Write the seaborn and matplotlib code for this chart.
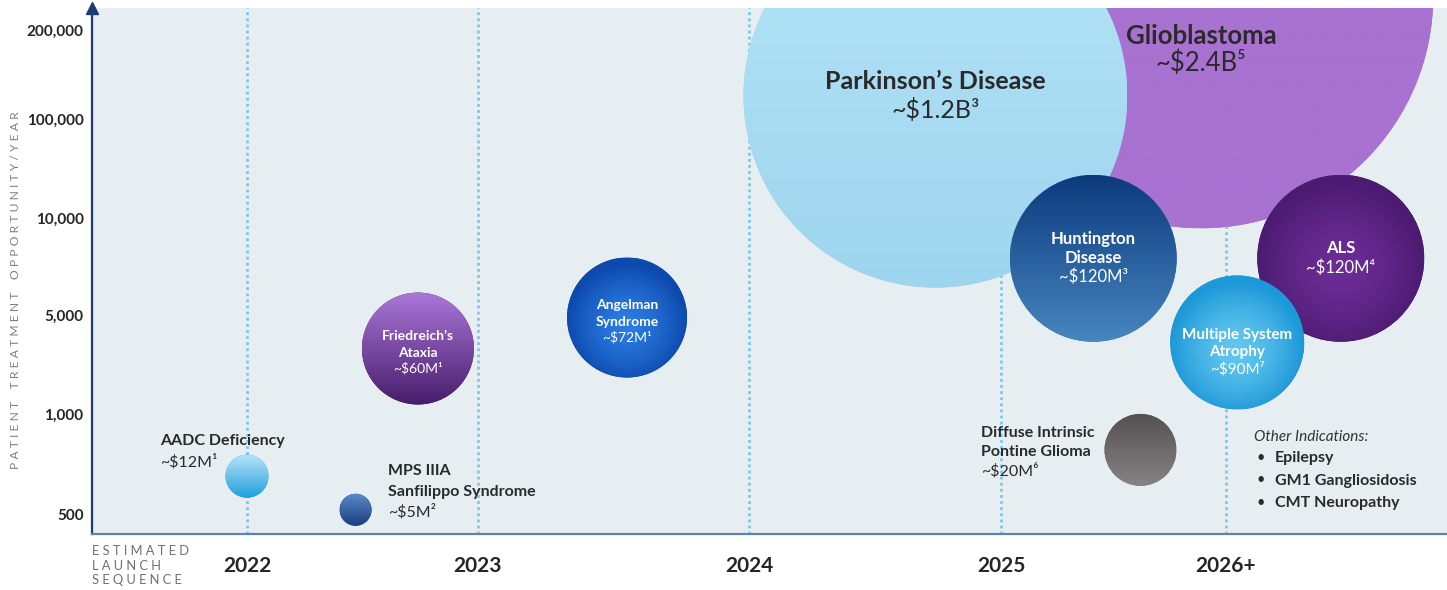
import numpy as np
import pandas as pd
import matplotlib
matplotlib.use('Agg')
import matplotlib.pyplot as plt
import seaborn as sns
from matplotlib.patches import Circle
from matplotlib.transforms import ScaledTranslation
from matplotlib.colors import to_rgb

# data
indications = ['AADC Deficiency', 'MPS IIIA\nSanfilippo Syndrome', 'Friedreich’s\nAtaxia',
               'Angelman\nSyndrome', 'Parkinson’s Disease', 'Glioblastoma',
               'Huntington\nDisease', 'ALS', 'Multiple System\nAtrophy',
               'Diffuse Intrinsic\nPontine Glioma']
market_labels = ['~$12M¹', '~$5M²', '~$60M¹', '~$72M¹', '~$1.2B³', '~$2.4B⁵',
                 '~$120M³', '~$120M⁴', '~$90M⁷', '~$20M⁶']
market_musd = [12, 5, 60, 72, 1200, 2400, 120, 120, 90, 20]
launch = [2022.0, 2022.47, 2022.74, 2023.55, 2024.74, 2025.89, 2025.41, 2026.51, 2026.05, 2025.62]
patients = [650, 515, 2900, 4800, 120000, 260000, 7500, 7500, 3200, 780]

x_tick_years = [2022, 2023, 2024, 2025, 2026]
x_tick_labels = ['2022', '2023', '2024', '2025', '2026+']
y_ticks = [500, 1000, 5000, 10000, 100000, 200000]
y_tick_labels = ['500', '1,000', '5,000', '10,000', '100,000', '200,000']
other_indications = ['Epilepsy', 'GM1 Gangliosidosis', 'CMT Neuropathy']

df = pd.DataFrame({'indication': indications, 'market': market_musd,
                   'launch': launch, 'patients': patients})

W, H, DPI = 1447, 590, 100

# the slide's axes are not linear: tick positions in pixels
X_ANCHOR_PX = [247, 478, 749, 1001, 1226]
Y_ANCHOR_PX = [514, 414, 315, 218, 119, 30]


def extrap_interp(v, xp, fp):
    v = np.asarray(v, dtype=float)
    xp = np.asarray(xp, dtype=float)
    fp = np.asarray(fp, dtype=float)
    out = np.interp(v, xp, fp)
    lo_slope = (fp[1] - fp[0]) / (xp[1] - xp[0])
    hi_slope = (fp[-1] - fp[-2]) / (xp[-1] - xp[-2])
    out = np.where(v < xp[0], fp[0] + (v - xp[0]) * lo_slope, out)
    out = np.where(v > xp[-1], fp[-1] + (v - xp[-1]) * hi_slope, out)
    return out


log_ticks = np.log10(y_ticks)
neg_y_px = -np.array(Y_ANCHOR_PX, dtype=float)


def fwd_x(v):
    return extrap_interp(v, x_tick_years, X_ANCHOR_PX)


def inv_x(p):
    return extrap_interp(p, X_ANCHOR_PX, x_tick_years)


def fwd_y(v):
    return extrap_interp(np.log10(np.clip(np.asarray(v, dtype=float), 1e-12, None)), log_ticks, neg_y_px)


def inv_y(p):
    return 10 ** extrap_interp(p, neg_y_px, log_ticks)


sns.set_theme(style='white')
plt.rcParams['font.family'] = ['Lato', 'DejaVu Sans']

# bubble radius (px) per market size, fill colours
bubble_px = {5: 16, 12: 21.5, 20: 36, 60: 56, 72: 60, 90: 67, 120: 83.5, 1200: 192, 2400: 232}
bubble_fill = {
    'AADC Deficiency': ('#B5E2F7', '#1FA0DC', 'v'),
    'MPS IIIA\nSanfilippo Syndrome': ('#5A88C8', '#1C3D7E', 'v'),
    'Friedreich’s\nAtaxia': ('#AA76D8', '#471D6B', 'v'),
    'Angelman\nSyndrome': ('#2B7CE2', '#0D4AAE', 'r'),
    'Parkinson’s Disease': ('#B4E4F8', '#9ED5EE', 'v'),
    'Glioblastoma': ('#A872D1', '#A872D1', 'v'),
    'Huntington\nDisease': ('#0C3A7E', '#4786BF', 'v'),
    'ALS': ('#6C2D96', '#4C1B72', 'r'),
    'Multiple System\nAtrophy': ('#62C7EF', '#1D98D8', 'r'),
    'Diffuse Intrinsic\nPontine Glioma': ('#565052', '#878385', 'v'),
}
bubble_z = {'Glioblastoma': 0, 'Parkinson’s Disease': 1, 'Huntington\nDisease': 2,
            'ALS': 3, 'Multiple System\nAtrophy': 4}

# label placement: x offset px, per-line y offsets px, alignment, size, colour
label_style = {
    'AADC Deficiency': (-87, [-35, -14], 'left', 11.5, '#2A2A2A'),
    'MPS IIIA\nSanfilippo Syndrome': (32, [-39, -18, 2], 'left', 11.5, '#2A2A2A'),
    'Friedreich’s\nAtaxia': (0, [-13, 4, 20], 'center', 10, 'white'),
    'Angelman\nSyndrome': (0, [-13, 4, 20], 'center', 10, 'white'),
    'Parkinson’s Disease': (0, [-14, 14], 'center', 18, '#2A2A2A'),
    'Glioblastoma': (0, [40, 67], 'center', 18.5, '#2A2A2A'),
    'Huntington\nDisease': (0, [-19, 0, 18], 'center', 12, 'white'),
    'ALS': (0, [-10, 9], 'center', 12, 'white'),
    'Multiple System\nAtrophy': (0, [-7, 10, 27], 'center', 11, 'white'),
    'Diffuse Intrinsic\nPontine Glioma': (-159, [-17, 2, 21], 'left', 11.5, '#2A2A2A'),
}

fig = plt.figure(figsize=(W / DPI, H / DPI), dpi=DPI)
ax = fig.add_axes([92 / W, 1 - 534 / H, 1 - 92 / W, (534 - 8) / H])
ax.set_facecolor('#E6EEF2')
ax.set_xscale('function', functions=(fwd_x, inv_x))
ax.set_yscale('function', functions=(fwd_y, inv_y))

for yr in x_tick_years:
    ax.axvline(yr, color='#7CC6EC', lw=2, ls=(0, (1, 1.2)), zorder=1)

palette = {k: v[1] for k, v in bubble_fill.items()}
sizes = {m: (2 * r * 72 / DPI) ** 2 for m, r in bubble_px.items()}
sns.scatterplot(data=df, x='launch', y='patients', hue='indication', palette=palette,
                size='market', sizes=sizes, linewidth=0, alpha=1, legend=False,
                ax=ax, zorder=2)

ax.set_xlim(float(inv_x(92)), float(inv_x(W)))
ax.set_ylim(float(inv_y(-534)), float(inv_y(-8)))
ax.set_autoscale_on(False)


def gradient(top, bottom, mode, n=96):
    c0 = np.array(to_rgb(top))
    c1 = np.array(to_rgb(bottom))
    yy, xx = np.mgrid[1:-1:n * 1j, -1:1:n * 1j]
    if mode == 'r':
        t = np.clip(np.hypot(xx, yy + 0.1), 0, 1) ** 1.5
    else:
        t = (1 - yy) / 2
    return c0 * (1 - t[..., None]) + c1 * t[..., None]


for i, name in enumerate(indications):
    r_in = bubble_px[market_musd[i]] / DPI
    trans = fig.dpi_scale_trans + ScaledTranslation(launch[i], patients[i], ax.transData)
    circ = Circle((0, 0), r_in, transform=trans)
    top, bottom, mode = bubble_fill[name]
    img = ax.imshow(gradient(top, bottom, mode), extent=(-r_in, r_in, -r_in, r_in),
                    transform=trans, aspect='auto', interpolation='bilinear',
                    zorder=3 + bubble_z.get(name, 6) * 0.1)
    img.set_clip_path(circ)

    dx, dys, ha, fs, col = label_style[name]
    lines = name.split('\n') + [market_labels[i]]
    for j, (line, dy) in enumerate(zip(lines, dys)):
        last = j == len(lines) - 1
        ax.annotate(line, xy=(launch[i], patients[i]), xytext=(dx * 0.72, -dy * 0.72),
                    textcoords='offset points', ha=ha, va='center',
                    fontsize=fs, fontweight='normal' if last else 'bold',
                    color=col, zorder=10, annotation_clip=False)

ax.set_xticks(x_tick_years, x_tick_labels)
ax.set_yticks(y_ticks, y_tick_labels)
ax.minorticks_off()
ax.tick_params(axis='x', length=0, pad=16, labelsize=15, labelcolor='#262626')
ax.tick_params(axis='y', length=0, pad=6, labelsize=11, labelcolor='#262626')
for lab in ax.get_xticklabels() + ax.get_yticklabels():
    lab.set_fontweight('bold')
ax.set_xlabel('')
ax.set_ylabel('')

for s in ['top', 'right']:
    ax.spines[s].set_visible(False)
ax.spines['left'].set_color('#1F3B73')
ax.spines['left'].set_linewidth(1.6)
ax.spines['bottom'].set_color('#6282A8')
ax.spines['bottom'].set_linewidth(1.6)
ax.plot([0], [1.0], marker='^', ms=8, color='#1F3B73', transform=ax.transAxes,
        clip_on=False, zorder=12)

# other indications box
fig.text(1254 / W, 1 - 437 / H, 'Other Indications:', fontsize=11, style='italic',
         color='#333333', va='center')
for k, item in enumerate(other_indications):
    yy = 1 - (458 + k * 22.5) / H
    fig.text(1256 / W, yy, '•', fontsize=10.5, color='#2A2A2A', va='center')
    fig.text(1275 / W, yy, item, fontsize=11.5, fontweight='bold', color='#2A2A2A', va='center')

fig.text(16 / W, 1 - 290 / H, ' '.join('PATIENT TREATMENT OPPORTUNITY/YEAR').replace('   ', '    '),
         rotation=90, fontsize=8.7, color='#808080', ha='center', va='center')
for k, word in enumerate(['ESTIMATED', 'LAUNCH', 'SEQUENCE']):
    fig.text(92 / W, 1 - (551 + k * 14.5) / H, ' '.join(word), fontsize=9.3,
             color='#707070', ha='left', va='center')

fig.savefig('out.png', dpi=DPI)
